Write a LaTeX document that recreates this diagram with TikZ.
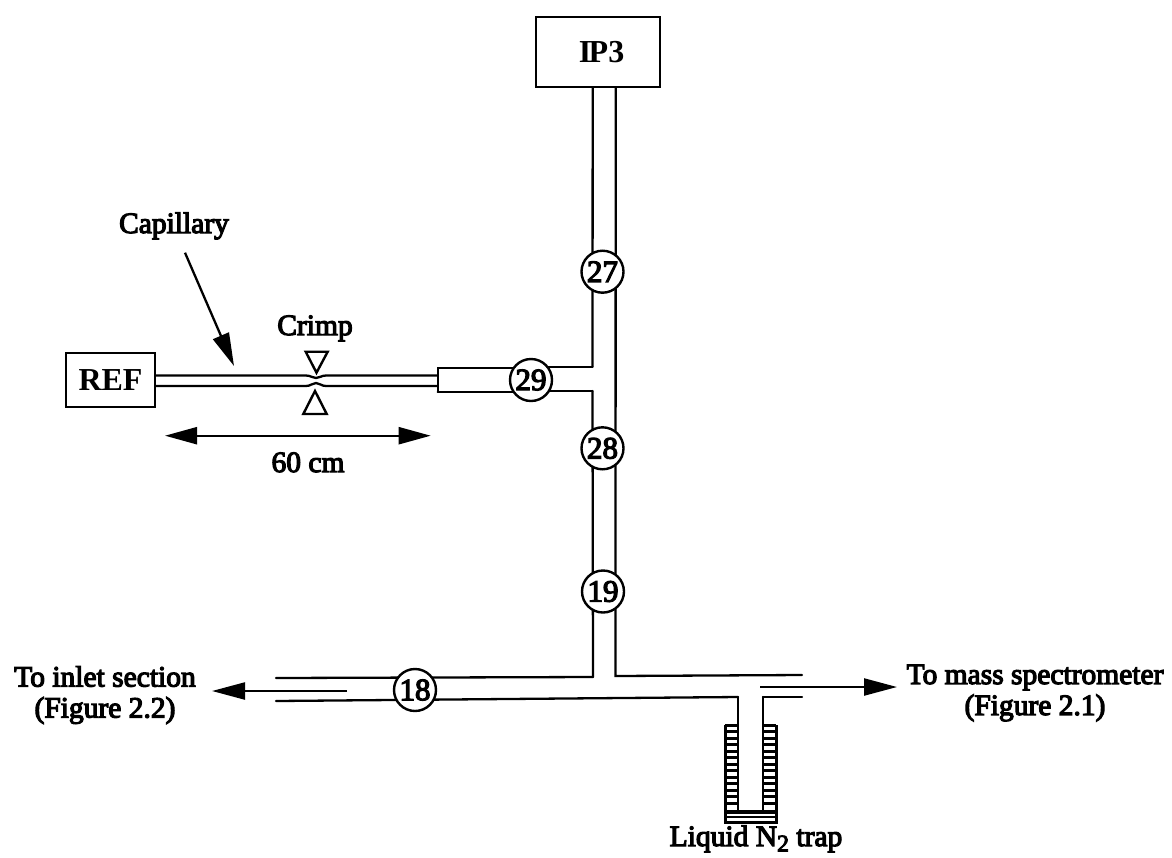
\documentclass[tikz,border=0pt]{standalone}
\usepackage{fontspec}
\setmainfont{Liberation Serif}
\newfontfamily\scanfont[FakeBold=4]{Liberation Serif}
\newfontfamily\scanbold{Liberation Serif Bold}
\usetikzlibrary{arrows.meta,backgrounds}
\tikzset{
  pipe/.style={line width=2.3pt,line cap=round},
  valve/.style={circle,draw,line width=2.4pt,fill=white,minimum size=42pt,inner sep=0pt,font=\scanfont\fontsize{31}{31}\selectfont},
  boxed/.style={rectangle,draw,line width=2.7pt,fill=white,inner sep=0pt,font=\scanbold\fontsize{32}{32}\selectfont},
  lbl/.style={inner sep=0pt,align=center,font=\scanfont\fontsize{29.5}{31}\selectfont},
  leader/.style={line width=2.3pt,-{Triangle[length=33pt,width=17pt]}},
  dimen/.style={line width=2.3pt,{Triangle[length=32pt,width=17pt]}-{Triangle[length=32pt,width=17pt]}},
  crimpmark/.style={draw,line width=2.4pt,line join=miter},
  rung/.style={line width=3pt},
}
\begin{document}
\begin{tikzpicture}[x=1pt,y=-1pt]
\useasboundingbox (0,0) rectangle (1172,857);
% valves and boxes
\node[boxed,minimum width=124pt,minimum height=70pt] (ip3) at (598,52) {\hspace{7pt}I\kern-2.5pt P3};
\node[boxed,minimum width=89pt,minimum height=54pt] (ref) at (110.5,380) {REF};
\node[valve] (v27) at (602.5,271.7) {27};
\node[valve] (v29) at (531,380) {29};
\node[valve] (v28) at (602.5,448.3) {28};
\node[valve] (v19) at (603,591.5) {19};
\node[valve] (v18) at (415,690) {18};
% free ends
\coordinate (tl) at (592.7,87);
\coordinate (tr) at (615.7,87);
\coordinate (bu) at (592.5,366.7);
\coordinate (bl) at (592.5,391);
\coordinate (wide) at (437.7,367.7);
\coordinate (widel) at (437.7,391.7);
\coordinate (capU) at (155,375.5);
\coordinate (capL) at (155,386);
\coordinate (crU) at (316,378);
\coordinate (crL) at (316,383);
\coordinate (capUe) at (437.7,375.5);
\coordinate (capLe) at (437.7,386);
\coordinate (ju) at (593,677);
\coordinate (jl) at (615.5,676);
\coordinate (lu) at (276,678);
\coordinate (ll) at (276,701);
\coordinate (ru) at (802,675);
\coordinate (rl) at (802,697);
\coordinate (t1) at (738,697);
\coordinate (t2) at (763,697);
\coordinate (t1b) at (738,812);
\coordinate (t2b) at (763,812);
\begin{pgfonlayer}{background}
  % vertical tube
  \draw[pipe] (tl) -- (bu);
  \draw[pipe] (bl) -- (ju);
  \draw[pipe] (tr) -- (jl) -- (ru);
  % side branch
  \draw[pipe] (widel) -- (wide) -- (v29.center |- wide);
  \draw[pipe] (widel) -- (v29.center |- widel);
  \draw[pipe] (v29.center |- bu) -- (bu);
  \draw[pipe] (v29.center |- bl) -- (bl);
  % capillary with crimp
  \draw[pipe] (capU) -- (306,375.5) .. controls (311,375.5) and (312,378) .. (crU)
     .. controls (320,378) and (321,375.5) .. (326,375.5) -- (capUe);
  \draw[pipe] (capL) -- (306,386) .. controls (311,386) and (312,383) .. (crL)
     .. controls (320,383) and (321,386) .. (326,386) -- (capLe);
  % main horizontal
  \draw[pipe] (lu) -- (ju);
  \draw[pipe] (ll) -- (t1);
  \draw[pipe] (t2) -- (rl);
  % trap
  \draw[pipe] (t1) -- (t1b) -- (t2b) -- (t2);
\end{pgfonlayer}
% trap coolant
\coordinate (cTL) at (725,725);
\coordinate (cTR) at (776,725);
\coordinate (cBL) at (725,822);
\coordinate (cBR) at (776,822);
\draw[rung] (cTL) -- (cBL) -- (cBR) -- (cTR);
\draw[rung] (cTL) -- (t1 |- cTL);
\draw[rung] (cTR) -- (t2 |- cTR);
\foreach \yy in {731.5,738,...,806}{
  \draw[rung] (725,\yy) -- (738,\yy);
  \draw[rung] (763,\yy) -- (776,\yy);
}
\draw[line width=3.5pt] (725,812) -- (776,812);
\draw[line width=2pt] (725,817) -- (776,817);
% crimp markers
\draw[crimpmark] (305.7,351.7) -- (327.7,351.7) -- (316.5,372.7) -- cycle;
\draw[crimpmark] (303.3,414) -- (326.7,414) -- (315,391) -- cycle;
% labels
\node[lbl,anchor=base] (lcap) at (174,233) {Capillary};
\node[lbl,anchor=base] (lcrimp) at (315,335) {Crimp};
\node[lbl,anchor=base] (l60) at (308,472) {60 cm};
\node[lbl] (lin) at (105,695) {To inlet section\\(Figure 2.2)};
\node[lbl] (lout) at (1035,693) {To mass spectrometer\\(Figure 2.1)};
\node[lbl,anchor=base] (ltrap) at (756,846) {Liquid N\raisebox{-5.5pt}{\fontsize{24}{24}\selectfont 2} trap};
% arrows
\coordinate (capArrowS) at (185,252.7);
\coordinate (capArrowE) at (234,366);
\draw[leader] (capArrowS) -- (capArrowE);
\coordinate (dimL) at (165,435.7);
\coordinate (dimR) at (430.7,435.7);
\draw[dimen] (dimL) -- (dimR);
\coordinate (inS) at (347,691);
\coordinate (inE) at (212,691);
\draw[leader] (inS) -- (inE);
\coordinate (outS) at (760,687);
\coordinate (outE) at (897,687);
\draw[leader] (outS) -- (outE);
\end{tikzpicture}
\end{document}
